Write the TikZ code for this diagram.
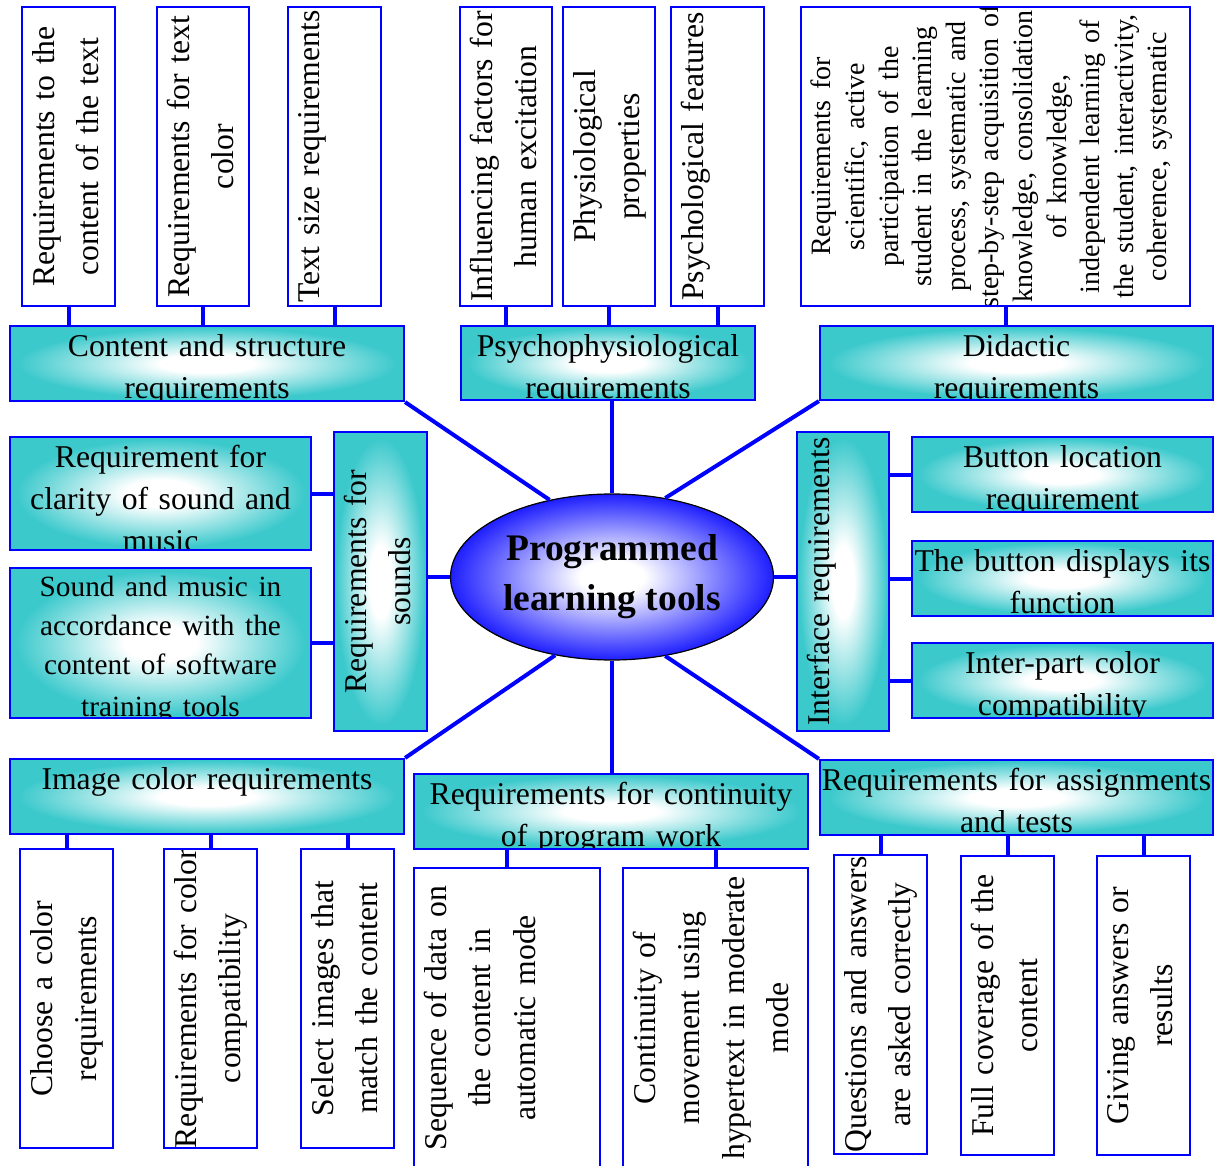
\documentclass[tikz,border=0pt]{standalone}
\usepackage{fontspec}
\setmainfont{Liberation Serif}
\usetikzlibrary{shapes.geometric}
\definecolor{hubteal}{RGB}{60,201,204}
\definecolor{coreblue}{RGB}{30,30,255}
\pgfdeclareradialshading{hubglow}{\pgfpoint{0bp}{0bp}}{color(0bp)=(white); color(6bp)=(white); color(24bp)=(hubteal); color(50bp)=(hubteal)}
\pgfdeclareradialshading{coreglow}{\pgfpoint{0bp}{0bp}}{color(0bp)=(white); color(5bp)=(white); color(25bp)=(coreblue); color(50bp)=(coreblue)}
\tikzset{
  hub/.style = {draw=blue, line width=2.2pt, shading=hubglow, inner sep=0pt},
  leaf/.style = {draw=blue, line width=2.2pt, fill=white, inner sep=0pt},
  core/.style = {ellipse, draw=black, line width=1.2pt, shading=coreglow, inner sep=0pt,
                 minimum width=323pt, minimum height=166pt, align=center,
                 font=\fontsize{37.5}{50}\selectfont\bfseries},
  link/.style = {draw=blue, line width=4pt},
  htext/.style = {anchor=north, align=center, text width=400pt, minimum width=0pt, minimum height=0pt,
                  inner xsep=0pt, inner ysep=7.5pt, font=\fontsize{31.7}{42}\selectfont},
  vtext/.style = {anchor=north, rotate=90, align=center, text width=320pt, minimum width=0pt, minimum height=0pt,
                  inner xsep=0pt, inner ysep=9pt, font=\fontsize{31.7}{44.5}\selectfont},
  htxt/.style = {path picture={\node[htext] at (path picture bounding box.north) {#1};}},
  vtxt/.style = {path picture={\node[vtext] at (path picture bounding box.west) {#1};}}
}

\begin{document}
\begin{tikzpicture}[x=1pt, y=-1pt]
\useasboundingbox (0,0) rectangle (1216,1166);
% upper row
\node[leaf, minimum width=93pt, minimum height=299pt, vtxt={Requirements to the\\content of the text}] (w1) at (68.5,156.5) {};
\node[leaf, minimum width=92pt, minimum height=299pt, vtxt={Requirements for text\\color}] (w2) at (203,156.5) {};
\node[leaf, minimum width=93pt, minimum height=299pt, vtxt={Text size requirements}] (w3) at (334.5,156.5) {};
\node[leaf, minimum width=92pt, minimum height=299pt, vtxt={Influencing factors for\\human excitation}] (w4) at (506,156.5) {};
\node[leaf, minimum width=92pt, minimum height=299pt, vtxt={Physiological\\properties}] (w5) at (609,156.5) {};
\node[leaf, minimum width=93pt, minimum height=299pt, vtxt={Psychological features}] (w6) at (717.5,156.5) {};
\node[leaf, minimum width=389pt, minimum height=299pt, vtxt={\fontsize{28}{33.6}\selectfont Requirements for\\scientific, active\\participation of the\\student in the learning\\process, systematic and\\step-by-step acquisition of\\knowledge, consolidation\\of knowledge,\\independent learning of\\the student, interactivity,\\coherence, systematic\\approach to presentation}] (w7) at (995.5,156.5) {};
\node[hub, minimum width=394pt, minimum height=75pt, htxt={Content and structure\\requirements}] (content) at (207,363.5) {};
\node[hub, minimum width=294pt, minimum height=74pt, htxt={Psychophysiological\\requirements}] (psycho) at (608,363) {};
\node[hub, minimum width=393pt, minimum height=74pt, htxt={\fontsize{31.7}{37}\selectfont Didactic\\requirements}] (didactic) at (1016.5,363) {};
% middle row
\node[hub, minimum width=301pt, minimum height=113pt, htxt={Requirement for\\clarity of sound and\\music}] (clarity) at (160.5,493.5) {};
\node[hub, minimum width=301pt, minimum height=150pt, htxt={\fontsize{29.3}{39}\selectfont Sound and music in\\accordance with the\\content of software\\training tools}] (accord) at (160.5,643) {};
\node[hub, minimum width=93pt, minimum height=299pt, vtxt={Requirements for\\sounds}] (sounds) at (380.5,581.5) {};
\node[core] (core) at (612,577) {Programmed\\learning tools};
\node[hub, minimum width=92pt, minimum height=299pt, vtxt={Interface requirements}] (interface) at (843,581.5) {};
\node[hub, minimum width=301pt, minimum height=75pt, htxt={Button location\\requirement}] (button) at (1062.5,474.5) {};
\node[hub, minimum width=301pt, minimum height=75pt, htxt={The button displays its\\function}] (display) at (1062.5,578.5) {};
\node[hub, minimum width=301pt, minimum height=75pt, htxt={Inter-part color\\compatibility}] (interpart) at (1062.5,680.5) {};
% lower row
\node[hub, minimum width=394pt, minimum height=75pt, htxt={Image color requirements}] (image) at (207,796.5) {};
\node[hub, minimum width=394pt, minimum height=75pt, htxt={Requirements for continuity\\of program work}] (contin) at (611,811.5) {};
\node[hub, minimum width=393pt, minimum height=75pt, htxt={Requirements for assignments\\and tests}] (assign) at (1016.5,797.5) {};
\node[leaf, minimum width=93pt, minimum height=299pt, vtxt={Choose a color\\requirements}] (b1) at (66.5,998.5) {};
\node[leaf, minimum width=93pt, minimum height=299pt, vtxt={Requirements for color\\compatibility}] (b2) at (210.5,998.5) {};
\node[leaf, minimum width=93pt, minimum height=299pt, vtxt={Select images that\\match the content}] (b3) at (347.5,998.5) {};
\node[leaf, minimum width=186pt, minimum height=300pt, vtxt={Sequence of data on\\the content in\\automatic mode}] (b4) at (507,1018) {};
\node[leaf, minimum width=185pt, minimum height=300pt, vtxt={Continuity of\\movement using\\hypertext in moderate\\mode}] (b5) at (715.5,1018) {};
\node[leaf, minimum width=93pt, minimum height=299pt, vtxt={Questions and answers\\are asked correctly}] (b6) at (880.5,1004.5) {};
\node[leaf, minimum width=93pt, minimum height=299pt, vtxt={Full coverage of the\\content}] (b7) at (1007.5,1005.5) {};
\node[leaf, minimum width=93pt, minimum height=299pt, vtxt={Giving answers or\\results}] (b8) at (1143.5,1005.5) {};
% connectors
\draw[link] (w1.south) -- (w1.south |- content.north);
\draw[link] (w2.south) -- (w2.south |- content.north);
\draw[link] (w3.south) -- (w3.south |- content.north);
\draw[link] (w4.south) -- (w4.south |- psycho.north);
\draw[link] (w5.south) -- (w5.south |- psycho.north);
\draw[link] (w6.south) -- (w6.south |- psycho.north);
\draw[link] ([xshift=10pt]w7.south) -- ([xshift=10pt]w7.south |- didactic.north);
\draw[link] (content.south east) -- (core.129);
\draw[link] (core.north) -- (core.north |- psycho.south);
\draw[link] (didactic.south west) -- (core.56);
\draw[link] (clarity.east) -- (clarity.east -| sounds.west);
\draw[link] (accord.east) -- (accord.east -| sounds.west);
\draw[link] (core.west) -- (core.west -| sounds.east);
\draw[link] (core.east) -- (core.east -| interface.west);
\draw[link] (button.west -| interface.east) -- (button.west);
\draw[link] (display.west -| interface.east) -- (display.west);
\draw[link] (interpart.west -| interface.east) -- (interpart.west);
\draw[link] (image.north east) -- (core.234);
\draw[link] (core.south) -- (core.south |- contin.north);
\draw[link] (assign.north west) -- (core.304);
\draw[link] (b1.north |- image.south) -- (b1.north);
\draw[link] (b2.north |- image.south) -- (b2.north);
\draw[link] (b3.north |- image.south) -- (b3.north);
\draw[link] (b4.north |- contin.south) -- (b4.north);
\draw[link] (b5.north |- contin.south) -- (b5.north);
\draw[link] (b6.north |- assign.south) -- (b6.north);
\draw[link] (b7.north |- assign.south) -- (b7.north);
\draw[link] (b8.north |- assign.south) -- (b8.north);
\end{tikzpicture}
\end{document}
